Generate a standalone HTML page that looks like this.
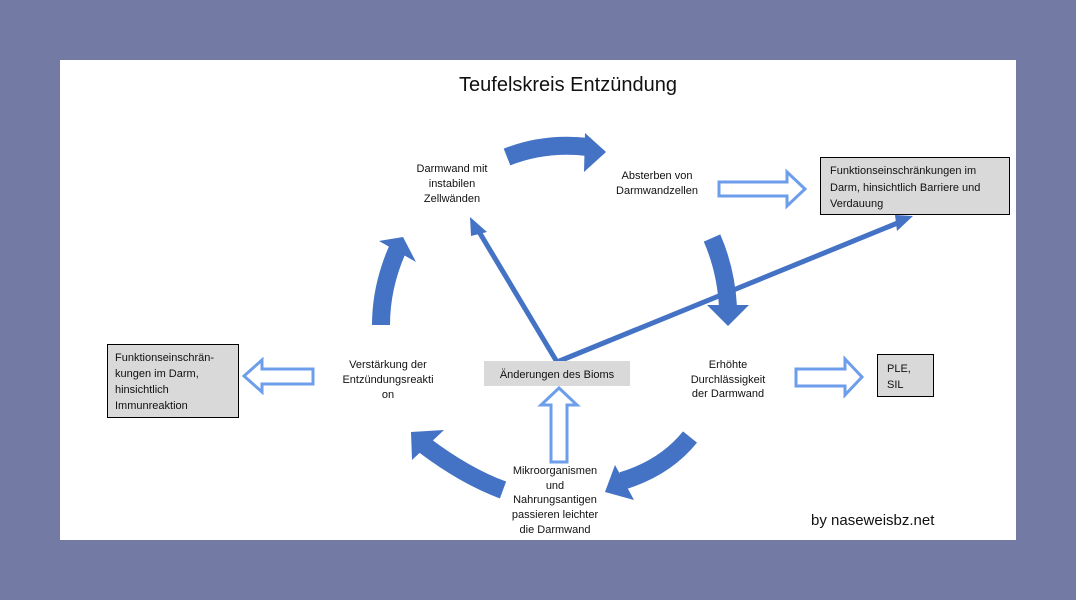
<!DOCTYPE html>
<html><head><meta charset="utf-8"><style>
body{margin:0;width:1076px;height:600px;background:#737ba5;overflow:hidden}
svg{display:block}
text{font-family:"Liberation Sans","DejaVu Sans",sans-serif;font-size:11px;fill:#111}
</style></head><body>
<svg width="1076" height="600" viewBox="0 0 1076 600">
<rect x="60" y="60" width="956" height="480" fill="#fff"/>
<text x="568" y="91" text-anchor="middle" style="font-size:20px">Teufelskreis Entzündung</text>
<g fill="none" stroke="#4472c4" stroke-width="18">
<path d="M507 157 Q545 142 588 147"/>
<path d="M712 238 Q726 270 728 307"/>
<path d="M690 437 Q665 468 622 481"/>
<path d="M503 490 Q465 476 424 445"/>
<path d="M381 325 Q381 285 399 246"/>
</g>
<g fill="#4472c4">
<polygon points="585,133 606,152 584,172"/>
<polygon points="707,305 749,305 728,326"/>
<polygon points="615,465 634,500 605,492"/>
<polygon points="411,432 444,430 412,460"/>
<polygon points="403,237 379,241 416,262"/>
</g>
<g stroke="#4472c4" stroke-width="5" fill="none">
<line x1="557" y1="362" x2="478" y2="230"/>
<line x1="557" y1="362" x2="900" y2="222"/>
</g>
<g fill="#4472c4">
<polygon points="470,217 487,232 471,236"/>
<polygon points="913,216 897,231 895,215"/>
</g>
<g fill="#fff" stroke="#6d9eeb" stroke-width="3">
<polygon points="719,182 787,182 787,172 805,189 787,206 787,196 719,196"/>
<polygon points="796,369 845,369 845,359 862,377 845,395 845,386 796,386"/>
<polygon points="313,369 262,369 262,360 244,376 262,392 262,384 313,384"/>
<polygon points="551,462 551,405 541,405 559,388 577,405 567,405 567,462"/>
</g>
<rect x="820.5" y="157.5" width="189" height="57" fill="#d9d9d9" stroke="#000"/>
<text x="830" y="174">Funktionseinschränkungen im</text>
<text x="830" y="191">Darm, hinsichtlich Barriere und</text>
<text x="830" y="207">Verdauung</text>
<rect x="877.5" y="354.5" width="56" height="42" fill="#d9d9d9" stroke="#000"/>
<text x="887" y="372">PLE,</text>
<text x="887" y="388">SIL</text>
<rect x="107.5" y="344.5" width="131" height="73" fill="#d9d9d9" stroke="#000"/>
<text x="115" y="361">Funktionseinschrän-</text>
<text x="115" y="377">kungen im Darm,</text>
<text x="115" y="393">hinsichtlich</text>
<text x="115" y="409">Immunreaktion</text>
<rect x="484" y="361" width="146" height="25" fill="#d9d9d9"/>
<text x="557" y="378" text-anchor="middle">Änderungen  des Bioms</text>
<g text-anchor="middle">
<text x="452" y="172">Darmwand mit</text>
<text x="452" y="187">instabilen</text>
<text x="452" y="202">Zellwänden</text>
<text x="657" y="179">Absterben von</text>
<text x="657" y="194">Darmwandzellen</text>
<text x="728" y="368">Erhöhte</text>
<text x="728" y="383">Durchlässigkeit</text>
<text x="728" y="397">der Darmwand</text>
<text x="388" y="368">Verstärkung der</text>
<text x="388" y="383">Entzündungsreakti</text>
<text x="388" y="398">on</text>
<text x="555" y="474">Mikroorganismen</text>
<text x="555" y="489">und</text>
<text x="555" y="503">Nahrungsantigen</text>
<text x="555" y="518">passieren leichter</text>
<text x="555" y="533">die Darmwand</text>
</g>
<text x="811" y="525" style="font-size:15px">by naseweisbz.net</text>
</svg>
</body></html>
